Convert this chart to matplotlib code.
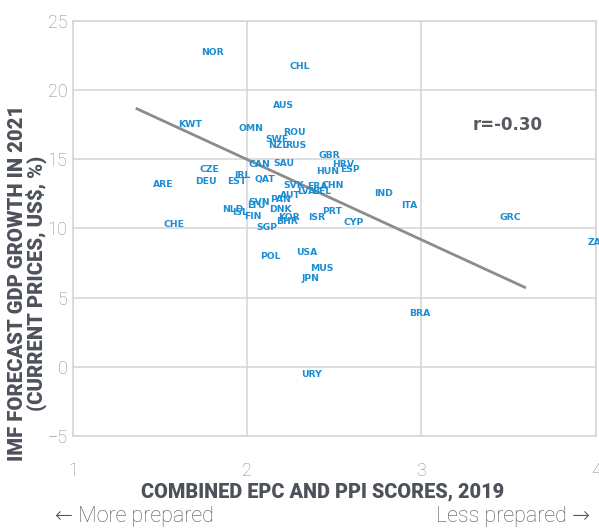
import matplotlib
matplotlib.use("Agg")
import matplotlib.pyplot as plt

countries = ["NOR", "CHL", "AUS", "KWT", "OMN", "ROU", "SWE", "NZL", "RUS", "GBR",
             "HRV", "ESP", "HUN", "CAN", "SAU", "CZE", "DEU", "ARE", "EST", "IRL",
             "QAT", "CHE", "SVK", "FRA", "CHN", "LVA", "BEL", "AUT", "PAN", "SVN",
             "LTU", "NLD", "ISL", "FIN", "DNK", "KOR", "BHR", "SGP", "ISR", "PRT",
             "CYP", "IND", "ITA", "GRC", "ZAF", "POL", "USA", "MUS", "JPN", "BRA",
             "URY"]
scores = [1.80, 2.30, 2.21, 1.67, 2.02, 2.27, 2.17, 2.18, 2.28, 2.47,
          2.55, 2.59, 2.46, 2.07, 2.21, 1.78, 1.76, 1.52, 1.94, 1.97,
          2.10, 1.58, 2.27, 2.40, 2.49, 2.34, 2.43, 2.25, 2.19, 2.07,
          2.05, 1.92, 1.96, 2.03, 2.19, 2.24, 2.23, 2.11, 2.40, 2.49,
          2.61, 2.78, 2.93, 3.51, 4.01, 2.13, 2.34, 2.43, 2.36, 2.99,
          2.37]
growth = [22.7, 21.7, 18.9, 17.5, 17.2, 16.95, 16.4, 16.0, 16.0, 15.25,
          14.6, 14.25, 14.15, 14.6, 14.7, 14.25, 13.4, 13.2, 13.4, 13.85,
          13.55, 10.3, 13.1, 13.0, 13.1, 12.7, 12.65, 12.35, 12.1, 11.85,
          11.65, 11.4, 11.15, 10.85, 11.4, 10.8, 10.5, 10.1, 10.8, 11.25,
          10.45, 12.55, 11.65, 10.8, 8.95, 8.0, 8.25, 7.1, 6.35, 3.85,
          -0.55]
trend_x = [1.36, 3.60]
trend_y = [18.7, 5.7]
x_ticks = [1, 2, 3, 4]
y_ticks = [-5, 0, 5, 10, 15, 20, 25]
r_text = "r=-0.30"

plt.rcParams['font.family'] = ['Roboto', 'DejaVu Sans']

fig = plt.figure(figsize=(5.99, 5.28), dpi=100)
ax = fig.add_axes([0.1219, 0.1746, 0.8726, 0.7854])
ax.set_xlim(1, 4)
ax.set_ylim(-5, 25)
ax.set_xticks(x_ticks)
ax.set_yticks(y_ticks)
grid_c = "#d4d4d4"
ax.grid(True, color=grid_c, linewidth=1.1)
ax.set_axisbelow(True)
for s in ax.spines.values():
    s.set_color(grid_c)
    s.set_linewidth(1.1)
ax.tick_params(length=0, labelsize=13, labelcolor="#8a8a8a")
ax.tick_params(axis="x", pad=19)
ax.tick_params(axis="y", pad=4)
for lab in ax.get_xticklabels() + ax.get_yticklabels():
    lab.set_fontweight("light")

ax.plot(trend_x, trend_y, color="#8c8c8c", linewidth=2, solid_capstyle="butt", zorder=2)

for c, x, y in zip(countries, scores, growth):
    ax.text(x, y, c, color="#1a8dd3", fontsize=6.7, fontweight="bold",
            family="DejaVu Sans", ha="center", va="center", zorder=3, clip_on=False)

ax.text(3.497, 17.45, r_text, color="#555a60", fontsize=12, fontweight="bold",
        family="DejaVu Sans", ha="center", va="center")

fig.text(0.539, 0.068, "COMBINED EPC AND PPI SCORES, 2019", color="#4d525a",
         fontsize=14.3, fontweight="black", ha="center", va="center")
fig.text(0.046, 0.464, "IMF FORECAST GDP GROWTH IN 2021\n(CURRENT PRICES, US$, %)",
         color="#4d525a", fontsize=14.6, fontweight="black", ha="center", va="center",
         rotation=90, linespacing=0.9)
fig.text(0.092, 0.022, "\u2190 More prepared", color="#555555", fontsize=15.5,
         fontweight="light", ha="left", va="center")
fig.text(0.985, 0.022, "Less prepared \u2192", color="#555555", fontsize=15.5,
         fontweight="light", ha="right", va="center")

fig.savefig("out.png", dpi=100)
